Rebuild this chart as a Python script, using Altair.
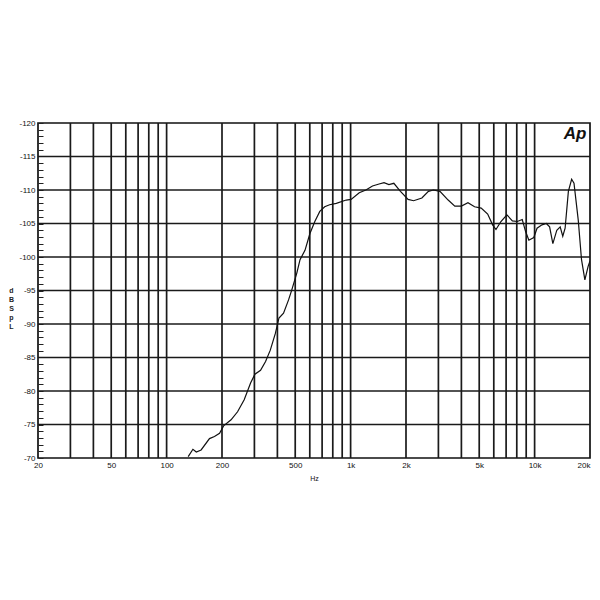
import altair as alt
import pandas as pd

# Frequency response
freq_hz = [131, 139, 145, 154, 171, 182, 194, 204, 224, 243, 264, 286, 302, 324, 345, 366,
           390, 408, 432, 460, 479, 510, 531, 565, 601, 639, 680, 723, 769, 836, 946, 1006,
           1114, 1211, 1315, 1428, 1519, 1615, 1718, 1866, 2053, 2200, 2440, 2648, 2816, 3058,
           3390, 3684, 4001, 4343, 4717, 5124, 5558, 5912, 6166, 6561, 7067, 7572, 8054, 8566,
           8934, 9306, 9898, 10310, 10967, 11578, 12064, 12566, 13202, 13772, 14224, 14648,
           15257, 15894, 16370, 17266, 17986, 18758, 19536, 20000]
spl_db = [70.2, 71.3, 70.9, 71.2, 72.9, 73.2, 73.7, 74.8, 75.7, 76.9, 78.7, 81.2, 82.5, 83.1,
          84.4, 86.1, 88.6, 90.9, 91.6, 93.6, 95.1, 97.6, 99.6, 101.0, 103.5, 105.3, 106.8,
          107.5, 107.8, 108.0, 108.5, 108.6, 109.6, 110.0, 110.6, 110.9, 111.1, 110.8, 111.0,
          109.8, 108.6, 108.4, 108.8, 109.8, 110.0, 109.8, 108.5, 107.6, 107.6, 108.1, 107.5,
          107.3, 106.4, 104.8, 104.1, 105.3, 106.3, 105.4, 105.3, 105.6, 103.8, 102.5, 102.9,
          104.3, 104.8, 105.0, 104.5, 102.0, 104.0, 104.5, 103.1, 104.3, 109.8, 111.6, 111.0,
          105.5, 99.6, 96.6, 98.6, 99.4]

x_label_values = [20, 50, 100, 200, 500, 1000, 2000, 5000, 10000, 20000]
x_grid_values = [30, 40, 50, 60, 70, 80, 90,
                 100, 200, 300, 400, 500, 600, 700, 800, 900,
                 1000, 2000, 3000, 4000, 5000, 6000, 7000, 8000, 9000, 10000]
y_grid_values = [75, 80, 85, 90, 95, 100, 105, 110, 115]
y_tick_values = list(range(70, 121))

n = min(len(freq_hz), len(spl_db))
curve = pd.DataFrame({"f": freq_hz[:n], "db": spl_db[:n]})
vgrid = pd.DataFrame({"f": x_grid_values})
hgrid = pd.DataFrame({"db": y_grid_values})

FONT = "Liberation Sans"
xscale = alt.Scale(type="log", domain=[20, 20000], nice=False)
yscale = alt.Scale(domain=[70, 120], nice=False, zero=False)

xaxis = alt.Axis(
    values=x_label_values,
    labelExpr="datum.value >= 1000 ? (datum.value / 1000) + 'k' : datum.value",
    labelAlign={"expr": "datum.value >= 20000 ? 'right' : 'center'"},
    grid=False, ticks=False, domain=False,
    labelFont=FONT, labelFontSize=8, labelColor="#111", labelPadding=3,
    labelFlush=False, labelOverlap=False,
    titleFont=FONT, titleFontSize=7, titleFontWeight="normal", titleColor="#111",
    titleY=20, titleBaseline="middle",
)
yaxis = alt.Axis(
    values=y_tick_values,
    labelExpr="datum.value % 5 == 0 ? '-' + datum.value : ''",
    grid=False, ticks=True, tickSize=5, tickColor="#222", tickWidth=1,
    domain=False, offset=-5,
    labelFont=FONT, labelFontSize=8, labelColor="#111", labelPadding=3,
    labelFlush=False, labelOverlap=False,
    titleFont=FONT, titleFontSize=7, titleFontWeight="bold", titleColor="#222",
    titleAngle=0, titleAlign="center", titleBaseline="middle",
    titleX=-32, titleLineHeight=9,
)
xtitle = "Hz"
ytitle = ["d", "B", "\u00a0", "S", "p", "L"]

vrules = alt.Chart(vgrid).mark_rule(color="#1a1a1a", strokeWidth=1.7).encode(
    x=alt.X("f:Q", scale=xscale, axis=xaxis, title=xtitle)
)
hrules = alt.Chart(hgrid).mark_rule(color="#1a1a1a", strokeWidth=1.7).encode(
    y=alt.Y("db:Q", scale=yscale, axis=yaxis, title=ytitle)
)
line = alt.Chart(curve).mark_line(color="#111", strokeWidth=1.2, clip=True).encode(
    x=alt.X("f:Q", scale=xscale, axis=xaxis, title=xtitle),
    y=alt.Y("db:Q", scale=yscale, axis=yaxis, title=ytitle),
)
logo = alt.Chart(pd.DataFrame({"t": ["Ap"]})).mark_text(
    font=FONT, fontSize=17, fontWeight="bold", fontStyle="italic",
    color="#111", align="center", baseline="middle",
).encode(text="t:N", x=alt.value(537), y=alt.value(11))

chart = alt.layer(vrules, hrules, line, logo).properties(
    width=552, height=335,
    autosize="none",
    padding={"left": 30, "top": 115, "right": 2, "bottom": 60},
    background="white",
).configure_view(stroke="#111", strokeWidth=1.7)

chart.save("out.html", embed_options={"renderer": "svg", "actions": False})
